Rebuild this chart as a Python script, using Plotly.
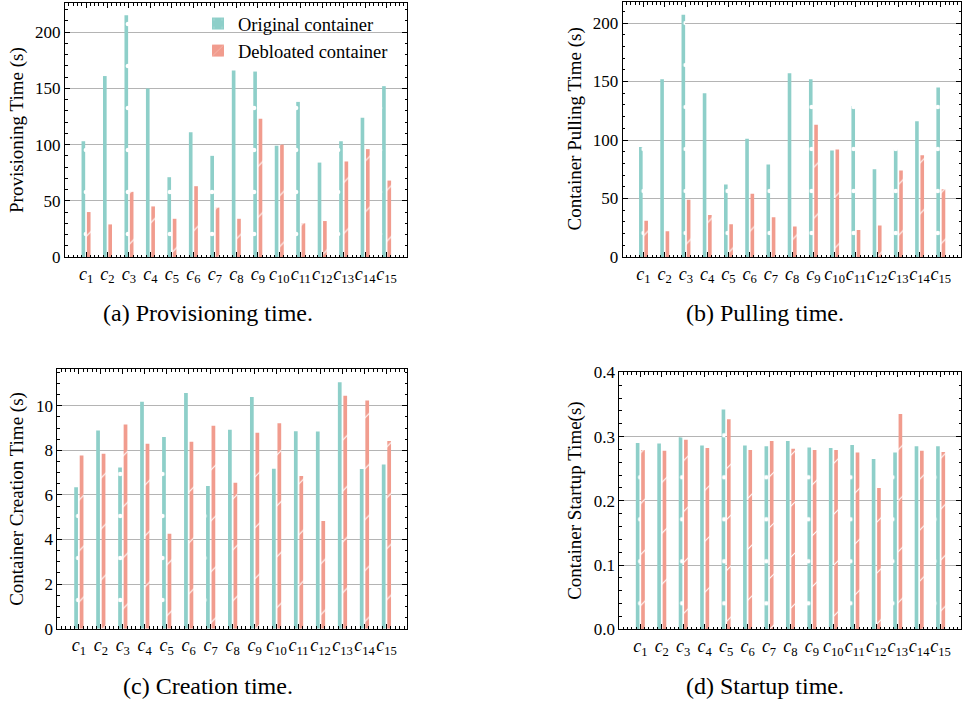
import plotly.graph_objects as go

categories = [f"c{i}" for i in range(1, 16)]
tick_labels = [f"<i>c</i><sub>{i}</sub>" for i in range(1, 16)]

prov_orig = [103, 161, 215, 150, 71, 111, 90, 166, 165, 99, 138, 84, 103, 124, 152]
prov_deb = [40, 29, 58, 45, 34, 63, 44, 34, 123, 100, 30, 32, 85, 96, 68]

pull_orig = [94, 152, 207, 140, 62, 101, 79, 157, 152, 91, 129, 75, 92, 116, 145]
pull_deb = [31, 22, 49, 36, 28, 54, 34, 26, 113, 92, 23, 27, 74, 87, 58]

create_orig = [6.35, 8.89, 7.23, 10.18, 8.60, 10.57, 6.40, 8.92, 10.39, 7.17, 8.86, 8.85, 11.06, 7.16, 7.37]
create_deb = [7.77, 7.85, 9.16, 8.30, 4.26, 8.39, 9.10, 6.55, 8.79, 9.22, 6.85, 4.83, 10.45, 10.24, 8.42]

start_orig = [0.290, 0.289, 0.299, 0.286, 0.342, 0.286, 0.285, 0.293, 0.283, 0.282, 0.287, 0.265, 0.275, 0.285, 0.285]
start_deb = [0.279, 0.278, 0.295, 0.282, 0.327, 0.279, 0.293, 0.281, 0.279, 0.279, 0.275, 0.220, 0.335, 0.278, 0.276]

series_names = ["Original container", "Debloated container"]
captions = ["(a) Provisioning time.", "(b) Pulling time.", "(c) Creation time.", "(d) Startup time."]
ytitles = ["Provisioning Time (s)", "Container Pulling Time (s)", "Container Creation Time (s)", "Container Startup Time(s)"]

TEAL = "#8ECFC9"
SALMON = "#F19C8E"
FONT = "Liberation Serif"
W, H = 962, 702

xpos = list(range(len(categories)))

panels = [
    dict(orig=prov_orig, deb=prov_deb, yr=[0, 226], dt=50, mdt=10, dom=(65, 407, 3, 257), tf=None),
    dict(orig=pull_orig, deb=pull_deb, yr=[0, 218], dt=50, mdt=10, dom=(622.7, 961, 2, 257), tf=None),
    dict(orig=create_orig, deb=create_deb, yr=[0, 11.65], dt=2, mdt=0.5, dom=(57.3, 407.3, 369, 628.7), tf=None),
    dict(orig=start_orig, deb=start_deb, yr=[0, 0.4], dt=0.1, mdt=0.02, dom=(619.3, 961, 372.3, 629.3), tf=".1f"),
]

fig = go.Figure()
layout = dict(
    width=W, height=H, autosize=False,
    margin=dict(l=0, r=0, t=0, b=0, autoexpand=False),
    paper_bgcolor="white", plot_bgcolor="white",
    font=dict(family=FONT, color="black"),
    barmode="overlay",
    showlegend=True,
    legend=dict(x=198 / W, y=1 - 5 / H, xanchor="left", yanchor="top",
                bgcolor="rgba(0,0,0,0)", font=dict(size=18.5, family=FONT),
                itemwidth=30, tracegroupgap=0),
)
annotations = []

for k, p in enumerate(panels):
    sfx = "" if k == 0 else str(k + 1)
    xa, ya = "x" + sfx, "y" + sfx
    x0, x1, ytop, ybot = p["dom"]
    fig.add_trace(go.Bar(
        x=xpos, y=p["orig"], name=series_names[0], xaxis=xa, yaxis=ya,
        width=0.17, offset=-0.21,
        marker=dict(color=TEAL, line=dict(width=0),
                    pattern=dict(shape=".", fgcolor="white", fgopacity=1, size=42, solidity=0.01, fillmode="overlay")),
        showlegend=(k == 0), legendgroup="o",
    ))
    fig.add_trace(go.Bar(
        x=xpos, y=p["deb"], name=series_names[1], xaxis=xa, yaxis=ya,
        width=0.17, offset=0.04,
        marker=dict(color=SALMON, line=dict(width=0),
                    pattern=dict(shape="/", fgcolor="white", fgopacity=1, size=36, solidity=0.03, fillmode="overlay")),
        showlegend=(k == 0), legendgroup="d",
    ))
    axcommon = dict(showline=True, linecolor="black", linewidth=1, mirror="allticks",
                    ticks="inside", ticklen=5, tickcolor="black", tickwidth=1,
                    zeroline=False, automargin=False)
    layout["xaxis" + sfx] = dict(
        axcommon, domain=[x0 / W, x1 / W], anchor=ya, range=[-0.98, 14.95],
        tickvals=xpos, ticktext=tick_labels, tickangle=0,
        tickfont=dict(size=18, family=FONT),
        showgrid=False,
        minor=dict(ticks="inside", ticklen=2.5, dtick=0.2, tick0=0, tickcolor="black", showgrid=False),
    )
    layout["yaxis" + sfx] = dict(
        axcommon, domain=[1 - ybot / H, 1 - ytop / H], anchor=xa, range=p["yr"],
        dtick=p["dt"], tick0=0, tickfont=dict(size=17, family=FONT),
        showgrid=True, gridcolor="#b4b4b4", gridwidth=1,
        tickformat=p["tf"] if p["tf"] else None,
        minor=dict(ticks="inside", ticklen=2.5, dtick=p["mdt"], tick0=0, tickcolor="black", showgrid=False),
    )
    tx = 17 if k % 2 == 0 else 575
    annotations.append(dict(
        text=ytitles[k], textangle=-90, showarrow=False,
        xref="paper", yref="paper", x=tx / W, y=1 - ((ytop + ybot) / 2) / H,
        xanchor="center", yanchor="middle", font=dict(size=19, family=FONT),
    ))

cap_pos = [(207.5, 313), (764.5, 313), (208, 686), (764.5, 686)]
for k, (cx, cy) in enumerate(cap_pos):
    annotations.append(dict(
        text=captions[k], showarrow=False, xref="paper", yref="paper",
        x=cx / W, y=1 - cy / H, xanchor="center", yanchor="middle",
        font=dict(size=24, family=FONT),
    ))

layout["annotations"] = annotations
fig.update_layout(**layout)
fig.write_html("out.html", config={"displayModeBar": False},
               post_script="document.body.style.margin='0px';")
